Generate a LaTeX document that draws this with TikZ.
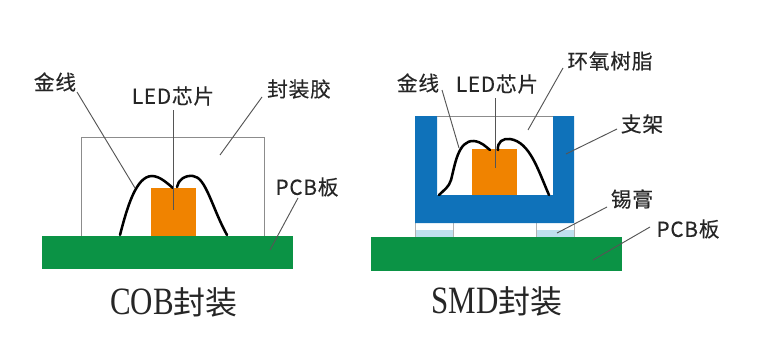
\documentclass[tikz,border=0pt]{standalone}
\usepackage{fontspec}
\setmainfont{Liberation Serif}
\newfontfamily\cjk[LetterSpace=4,FakeBold=0.25]{Noto Sans CJK SC}
\newfontfamily\cjkcap{Noto Sans CJK SC}
\definecolor{pcbgreen}{HTML}{0B9345}
\definecolor{chiporange}{HTML}{F08300}
\definecolor{frameblue}{HTML}{0F72BA}
\definecolor{pasteblue}{HTML}{BFE0EE}
\definecolor{leadgray}{HTML}{555555}
\tikzset{
  board/.style={fill=pcbgreen,draw=none},
  chip/.style={fill=chiporange,draw=none},
  frame/.style={fill=frameblue,draw=none},
  encap/.style={draw=black!45,line width=0.7pt,fill=white},
  bond/.style={draw=black,line width=1.9pt,line cap=round,line join=round},
  leader/.style={draw=leadgray,line width=0.7pt},
  callout/.style={font=\cjk\fontsize{15.5}{17}\selectfont,inner sep=0pt,text=black!85},
  caption/.style={inner sep=0pt,text=black!85}
}
\newcommand{\captiontext}[2]{\scalebox{0.8}[1]{\fontsize{29}{32}\selectfont #1}{\cjkcap\fontsize{24}{28}\selectfont #2}}
\begin{document}
\begin{tikzpicture}[x=0.75pt,y=-0.75pt]
\useasboundingbox (0,0) rectangle (767,353);
\fill[white] (0,0) rectangle (767,353);

% COB package
\draw[encap] (81,137) rectangle (264,236);
\fill[chip] (151,188) rectangle (196,236);
\fill[board] (42,236) rectangle (293,269);
\draw[bond] (120,235) .. controls (127,208) and (136,176) .. (152,176)
  .. controls (160,176) and (168,184) .. (173,188);
\draw[bond] (177,187) .. controls (178,180) and (185,175) .. (193,176)
  .. controls (206,177) and (212,208) .. (227,235);

% SMD package
\fill[pasteblue] (415,230) rectangle (453,237);
\fill[pasteblue] (536,230) rectangle (574,237);
\draw[black!30,line width=0.5pt] (415,223) -- (415,237) (453,223) -- (453,237)
  (536,223) -- (536,237) (574,223) -- (574,237);
\fill[frame] (415,116) -- (437,116) -- (437,195) -- (553,195) -- (553,116)
  -- (574,116) -- (574,223) -- (415,223) -- cycle;
\draw[encap] (437,116) -- (553,116);
\fill[chip] (472,149) rectangle (517,195);
\fill[board] (371,237) rectangle (622,271);
\draw[bond] (439,195) .. controls (444,190) and (449,187) .. (451,180)
  .. controls (455,165) and (458,140) .. (474,141)
  .. controls (482,142) and (486,147) .. (490,150);
\draw[bond] (498,150) .. controls (497,142) and (503,138) .. (510,139)
  .. controls (530,142) and (538,170) .. (549,195);

% Callout labels
\node[callout] (goldA) at (55,82) {金线};
\node[callout] (ledA) at (173,96) {LED芯片};
\node[callout] (glueA) at (299,89) {封装胶};
\node[callout] (pcbA) at (307,187) {PCB板};
\node[callout] (goldB) at (418,83) {金线};
\node[callout] (ledB) at (497,84) {LED芯片};
\node[callout] (resinB) at (610,61) {环氧树脂};
\node[callout] (frameB) at (642,124) {支架};
\node[callout] (pasteB) at (632,199) {锡膏};
\node[callout] (pcbB) at (688,229) {PCB板};

% Captions
\node[caption] (capA) at (174,302) {\captiontext{COB}{封装}};
\node[caption] (capB) at (497,301) {\captiontext{SMD}{封装}};

% Leader end points
\coordinate (goldAs) at (77,92);   \coordinate (goldAe) at (135,188);
\coordinate (ledAs) at (173,110);  \coordinate (ledAe) at (173,210);
\coordinate (glueAs) at (262,97);  \coordinate (glueAe) at (220,155);
\coordinate (pcbAs) at (298,198);  \coordinate (pcbAe) at (270,250);
\coordinate (goldBs) at (442,90);  \coordinate (goldBe) at (459,148);
\coordinate (ledBs) at (495,98);   \coordinate (ledBe) at (495,168);
\coordinate (resinBs) at (563,68); \coordinate (resinBe) at (528,130);
\coordinate (frameBs) at (617,129);\coordinate (frameBe) at (566,154);
\coordinate (pasteBs) at (607,207);\coordinate (pasteBe) at (557,233);
\coordinate (pcbBs) at (650,227);  \coordinate (pcbBe) at (593,260);

\foreach \a/\b in {goldAs/goldAe,ledAs/ledAe,glueAs/glueAe,pcbAs/pcbAe,
  goldBs/goldBe,ledBs/ledBe,resinBs/resinBe,frameBs/frameBe,pasteBs/pasteBe,pcbBs/pcbBe}
  \draw[leader] (\a) -- (\b);
\end{tikzpicture}
\end{document}
